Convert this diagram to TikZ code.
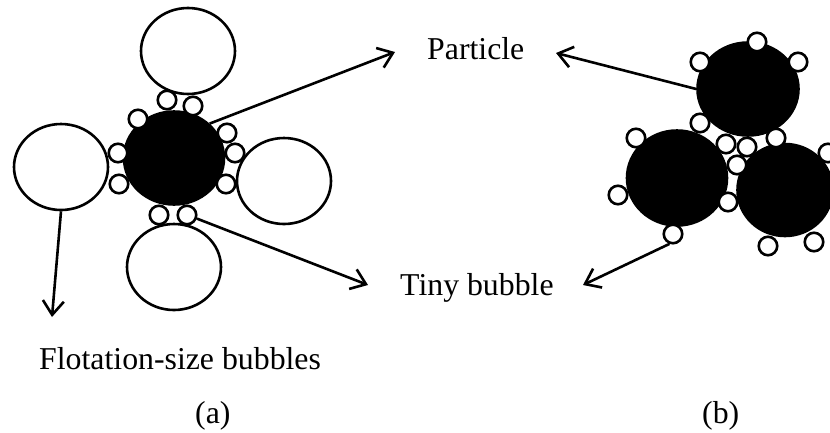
\documentclass[tikz,border=0pt]{standalone}
\usepackage{fontspec}
\setmainfont{Liberation Serif}
\usetikzlibrary{shapes.geometric,arrows.meta}
\begin{document}
\begin{tikzpicture}[x=1pt,y=-1pt,
 lw/.style={line width=2.6pt},
 bigbub/.style={ellipse,draw,lw,fill=white,inner sep=0pt,minimum width=94pt,minimum height=86pt},
 part/.style={ellipse,draw,lw,fill=black,inner sep=0pt},
 tiny/.style={circle,draw,lw,fill=white,inner sep=0pt,minimum size=18.5pt},
 lbl/.style={inner sep=0pt,anchor=base west,font=\fontsize{31.8}{36}\selectfont},
 arr/.style={lw,-{Straight Barb[length=14pt,width=21pt]}}
]
\useasboundingbox (0,0) rectangle (830,432);
% ---------- (a) ----------
\node[part,minimum width=100pt,minimum height=93pt] (pa) at (174,158) {};
\node[bigbub] (bt) at (188,51) {};
\node[bigbub] (bl) at (61,167) {};
\node[bigbub] (br) at (284,181) {};
\node[bigbub] (bb) at (174,267) {};
\node[tiny] (a1) at (167,100) {};
\node[tiny] (a2) at (193,106) {};
\node[tiny] (a3) at (138,119) {};
\node[tiny] (a4) at (118,153) {};
\node[tiny] (a5) at (119,184) {};
\node[tiny] (a6) at (227,133) {};
\node[tiny] (a7) at (235,153) {};
\node[tiny] (a8) at (226,184) {};
\node[tiny] (a9) at (159,215) {};
\node[tiny] (a10) at (187,215) {};
% ---------- (b) ----------
\node[part,minimum width=101pt,minimum height=93pt] (pt) at (748,89) {};
\node[part,minimum width=100pt,minimum height=95pt] (pl) at (677,178) {};
\node[part,minimum width=95pt,minimum height=92pt] (pr) at (785,190) {};
\node[tiny] (b1) at (757,42) {};
\node[tiny] (b2) at (700,62) {};
\node[tiny] (b3) at (798,62) {};
\node[tiny] (b4) at (700,123) {};
\node[tiny] (b5) at (776,138) {};
\node[tiny] (b6) at (636,138) {};
\node[tiny] (b7) at (618,195) {};
\node[tiny] (b8) at (673,234) {};
\node[tiny] (b9) at (728,202) {};
\node[tiny] (b10) at (726,144) {};
\node[tiny] (b11) at (747,147) {};
\node[tiny] (b12) at (737,165) {};
\node[tiny] (b13) at (828,153) {};
\node[tiny] (b14) at (768,246) {};
\node[tiny] (b15) at (814,242) {};
% ---------- labels ----------
\node[lbl] (tp) at (427,59) {Particle};
\node[lbl] (tt) at (400,295) {Tiny bubble};
\node[lbl] (tf) at (39,369) {Flotation-size bubbles};
\node[lbl] (la) at (195,423) {(a)};
\node[lbl] (lb) at (702,423) {(b)};
% ---------- arrow tips ----------
\coordinate (e1) at (395,52);
\coordinate (e2) at (368,285);
\coordinate (e3) at (52,317);
\coordinate (e4) at (556,53);
\coordinate (e5) at (583,285);
\draw[arr] (pa.44) -- (e1);
\draw[arr] (a10.-20) -- (e2);
\draw[arr] (bl.south) -- (e3);
\draw[arr] (pt.west) -- (e4);
\draw[arr] (b8.250) -- (e5);
\end{tikzpicture}
\end{document}
